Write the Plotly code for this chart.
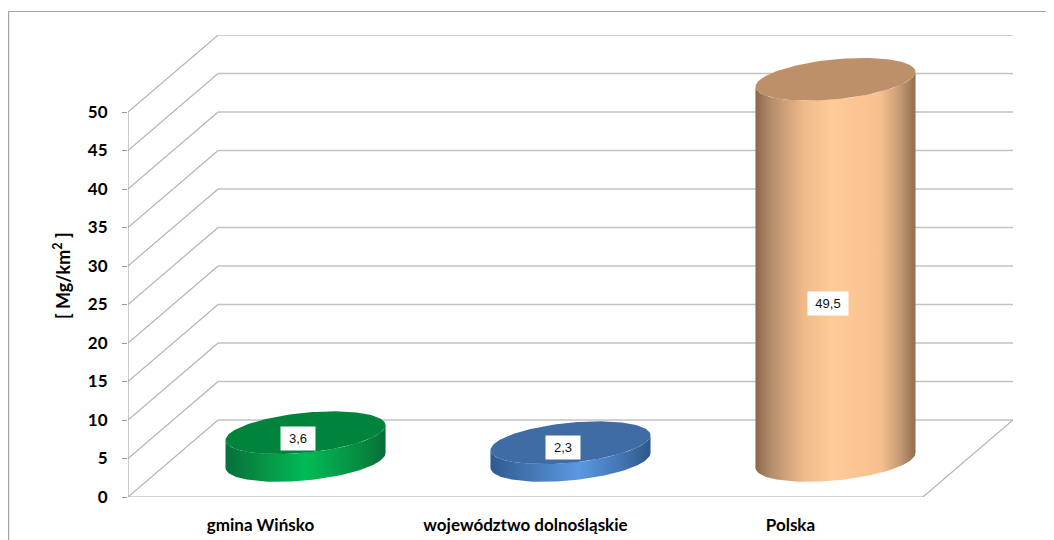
import math
import plotly.graph_objects as go

# ---- data ----
categories = ["gmina Wińsko", "województwo dolnośląskie", "Polska"]
values = [3.6, 2.3, 49.5]
value_labels = ["3,6", "2,3", "49,5"]
y_ticks = [0, 5, 10, 15, 20, 25, 30, 35, 40, 45, 50]

# ---- projection and style constants ----
DEPTH_X = 0.34      # oblique shift of the back wall, category units
DEPTH_Y = 10.0      # oblique shift of the back wall, value units
BASE_X = 0.17       # cylinder axis sits half way into the floor
BASE_Y = 4.75
RADIUS_X = 0.302
RADIUS_Y = 2.6
SHEAR_Y = 0.97
LABEL_SHIFT = [8.5, 4.5, -34]
LABEL_DX = -0.027
GRID = "#c2c2c2"
DIAG = "#b4b4b4"

side_scales = [
    [[0, "#06703a"], [0.12, "#07813f"], [0.5, "#00bb55"], [0.85, "#078a42"], [1, "#066f36"]],
    [[0, "#2e5a90"], [0.12, "#39699f"], [0.55, "#5b98e2"], [0.85, "#3f70ad"], [1, "#2d5688"]],
    [[0, "#8a674a"], [0.1, "#b48e6c"], [0.3, "#f0b98a"], [0.48, "#ffcb98"], [0.78, "#f8c08e"],
     [0.9, "#c89b75"], [1, "#8f6d50"]],
]
top_colors = ["#00843c", "#3f6ca4", "#bd9069"]

fig = go.Figure()


def line_trace(xs, ys, color, width):
    fig.add_trace(go.Scatter(x=xs, y=ys, mode="lines", hoverinfo="skip", showlegend=False,
                             line=dict(color=color, width=width)))


x_left = -0.5
x_right = len(categories) - 0.5

# back wall horizontal grid lines
bx, by = [], []
for t in y_ticks:
    bx += [x_left + DEPTH_X, x_right + DEPTH_X, None]
    by += [t + DEPTH_Y, t + DEPTH_Y, None]
line_trace(bx, by, GRID, 1.6)

# side wall diagonals and floor
dx, dy = [], []
for t in y_ticks:
    dx += [x_left, x_left + DEPTH_X, None]
    dy += [t, t + DEPTH_Y, None]
dx += [x_right, x_right + DEPTH_X, None]
dy += [0, DEPTH_Y, None]
line_trace(dx, dy, DIAG, 1.2)

# front of the floor and the value axis line
line_trace([x_left, x_right], [0, 0], GRID, 1.6)
line_trace([x_left, x_left], [0, max(y_ticks)], "#a8a8a8", 1.2)


def ellipse_point(cx, cy, t):
    return (cx + RADIUS_X * math.cos(t),
            cy + RADIUS_Y * math.sin(t) + SHEAR_Y * math.cos(t))


N = 72
for i, v in enumerate(values):
    cx = i + BASE_X
    y0 = BASE_Y
    y1 = BASE_Y + v
    angles_front = [math.pi * k / N for k in range(N + 1)]    # right -> left along the lower/near edge
    lower = [ellipse_point(cx, y0, -a) for a in angles_front]
    upper = [ellipse_point(cx, y1, -a) for a in reversed(angles_front)]
    poly = lower + upper + [lower[0]]
    fig.add_trace(go.Scatter(
        x=[p[0] for p in poly], y=[p[1] for p in poly], mode="lines", fill="toself",
        line=dict(width=0), hoverinfo="skip", showlegend=False,
        fillcolor=side_scales[i][3][1],
        fillgradient=dict(type="horizontal", colorscale=side_scales[i],
                          start=cx - RADIUS_X, stop=cx + RADIUS_X),
    ))
    cap = [ellipse_point(cx, y1, 2 * math.pi * k / (2 * N)) for k in range(2 * N + 1)]
    fig.add_trace(go.Scatter(
        x=[p[0] for p in cap], y=[p[1] for p in cap], mode="lines", fill="toself",
        fillcolor=top_colors[i], line=dict(width=0, color=top_colors[i]),
        hoverinfo="skip", showlegend=False,
    ))
    fig.add_annotation(x=cx + LABEL_DX, y=BASE_Y + v / 2, yshift=LABEL_SHIFT[i],
                       text=value_labels[i], showarrow=False, bgcolor="white",
                       width=32 if len(value_labels[i]) < 4 else 38, height=21,
                       font=dict(family="Liberation Sans", size=13, color="#111111"))

# The page sits 8px inside the window, so the figure is laid out 8px up and left.
W, H = 1046, 532
ML, MR, MT, MB = 120, 41, 27, 43
PW, PH = W - ML - MR, H - MT - MB
fx = lambda px: (px - ML) / PW
fy = lambda py: 1 - (py - MT) / PH
frame = dict(type="line", xref="paper", yref="paper", line=dict(color="#a3a3a3", width=1.2))
fig.add_shape(x0=fx(0.6), x1=fx(0.6), y0=fy(H), y1=fy(3.5), **frame)
fig.add_shape(x0=fx(0.6), x1=fx(W), y0=fy(3.5), y1=fy(3.5), **frame)

fig.add_annotation(xref="paper", yref="paper", x=fx(54), y=fy(268), text="[ Mg/km<sup>2</sup> ]",
                   xanchor="center", yanchor="middle", textangle=-90, showarrow=False,
                   font=dict(family="Lato", size=18, color="black", weight="bold"))

fig.update_layout(
    width=W, height=H, autosize=False,
    margin=dict(l=ML, r=MR, t=MT, b=MB, autoexpand=False),
    paper_bgcolor="white", plot_bgcolor="white", showlegend=False,
    xaxis=dict(range=[x_left, x_right + DEPTH_X], tickmode="array", automargin=False,
               tickvals=list(range(len(categories))), ticktext=categories,
               showgrid=False, zeroline=False, showline=False, ticks="",
               ticklabelstandoff=16,
               tickfont=dict(family="Lato", size=17, color="black", weight="bold")),
    yaxis=dict(range=[0, 60], tickmode="array", tickvals=y_ticks, automargin=False,
               ticktext=[str(t) for t in y_ticks],
               showgrid=False, zeroline=False, showline=False,
               ticks="outside", ticklen=5, tickwidth=1, tickcolor="#9a9a9a",
               ticklabelstandoff=11,
               tickfont=dict(family="Lato", size=17, color="black", weight="bold")),
)

fig.write_html("out.html")
